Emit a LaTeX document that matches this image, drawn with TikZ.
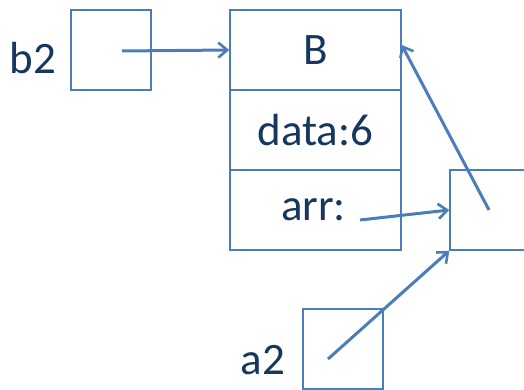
\documentclass[tikz,border=0pt]{standalone}
\usepackage{fontspec}
\setmainfont{Carlito}
\usetikzlibrary{arrows.meta}
\definecolor{lineblue}{HTML}{4A7EBB}
\definecolor{txtblue}{HTML}{17375E}
\tikzset{
  cell/.style={draw=lineblue, line width=1.5pt, minimum width=80pt, minimum height=80pt, inner sep=0pt, text=txtblue, font=\fontsize{45}{50}\selectfont},
  bigcell/.style={cell, minimum width=171pt},
  lbl/.style={text=txtblue, font=\fontsize{45}{50}\selectfont, inner sep=0pt},
  ptr/.style={draw=lineblue, line width=3pt, -{Straight Barb[length=9pt,width=15pt,line width=2.6pt]}}
}
\begin{document}
\begin{tikzpicture}[x=1pt,y=-1pt]
\useasboundingbox (0,0) rectangle (524,390);
\node[cell] (b2) at (111,50) {};
\node[lbl] (b2l) at (33,58) {b2};
\node[bigcell] (Bt) at (315.5,50) {B};
\node[bigcell] (Bd) at (315.5,130) {data:6};
\node[bigcell] (Ba) at (315.5,210) {\hspace*{-4pt}arr:};
\node[cell] (arrbox) at (490,210) {};
\node[cell] (a2) at (343,349) {};
\node[lbl] (a2l) at (263,360) {a2};
\coordinate (b2s) at (122,51);
\coordinate (arrs) at (360,220);
\coordinate (a2s) at (328,359);
\coordinate (rbs) at (489,210);
\draw[ptr] (b2s) -- (Bt.west);
\draw[ptr] (arrs) -- (arrbox.west);
\draw[ptr] (a2s) -- (arrbox.south west);
\draw[ptr] (rbs) -- ([yshift=5pt]Bt.east);
\end{tikzpicture}
\end{document}
